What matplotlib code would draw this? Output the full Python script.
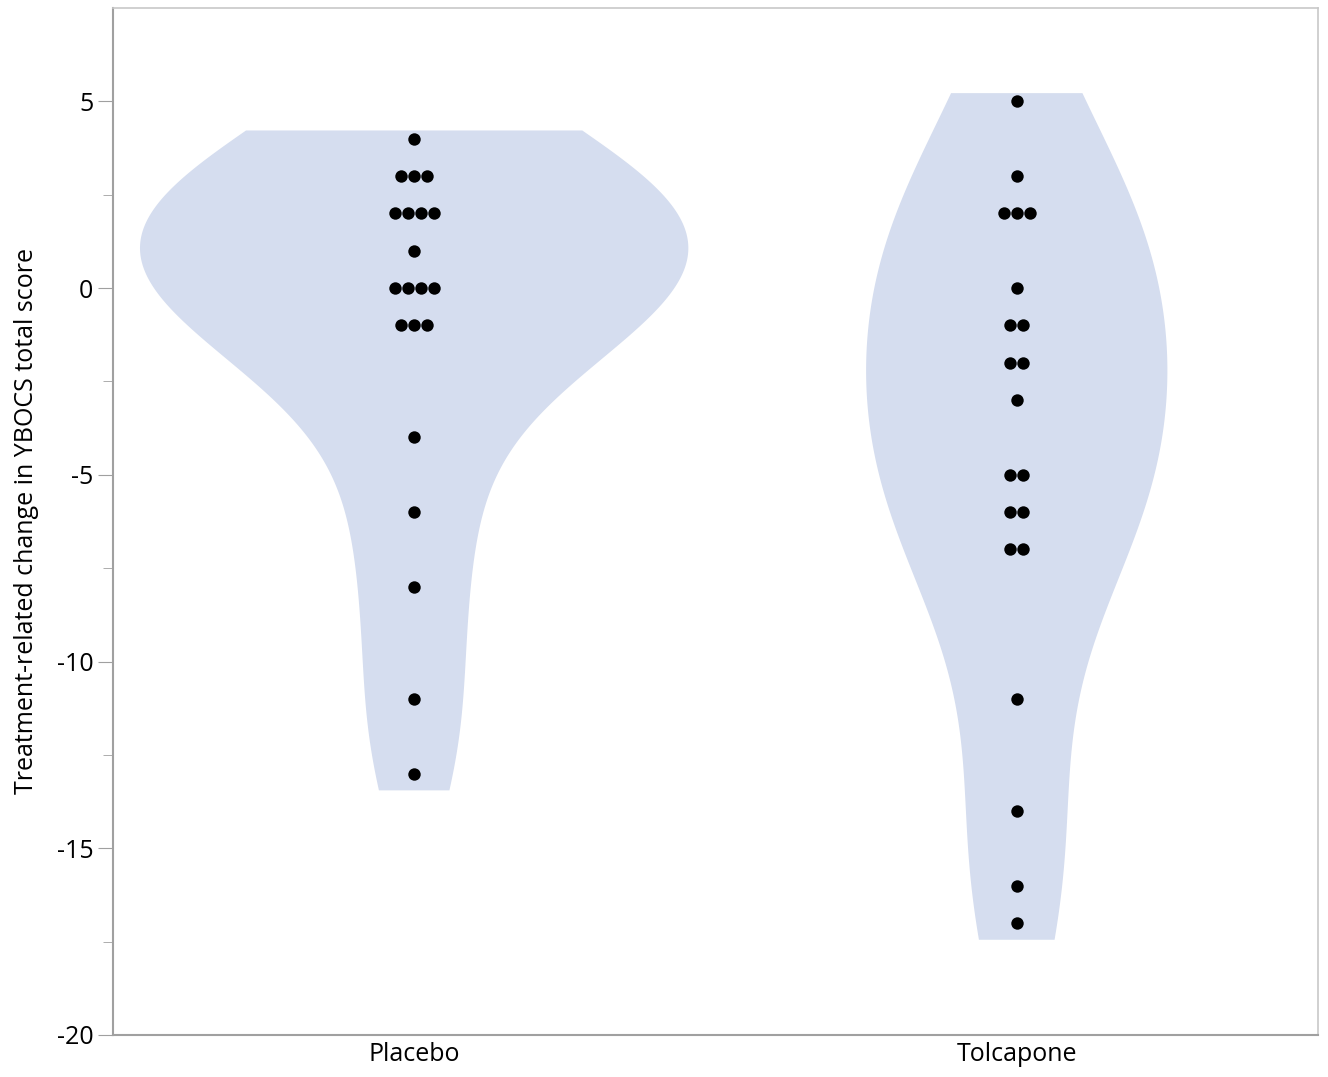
import numpy as np
import matplotlib
matplotlib.use("Agg")
import matplotlib.pyplot as plt

categories = ["Placebo", "Tolcapone"]
placebo = [4, 3, 3, 3, 2, 2, 2, 2, 1, 0, 0, 0, 0, -1, -1, -1, -4, -6, -8, -11, -13]
tolcapone = [5, 3, 2, 2, 2, 0, -1, -1, -2, -2, -3, -5, -5, -6, -6, -7, -7, -11, -14, -16, -17]
series = [placebo, tolcapone]
yticks = [5, 0, -5, -10, -15, -20]

plt.rcParams['font.family'] = ['Open Sans', 'DejaVu Sans']

fig = plt.figure(figsize=(13.28, 10.77), dpi=100)
ax = fig.add_axes([0.085, 0.039, 0.9075, 0.9536])

fill = '#d5ddef'
ext_hi, ext_lo = 0.22, 0.45
violin_widths = [0.91, 0.50]

stats = []
for d in series:
    d = np.asarray(d, float)
    bw = d.std(ddof=1) * len(d) ** (-0.2)
    coords = np.linspace(d.min() - ext_lo, d.max() + ext_hi, 400)
    dens = np.exp(-0.5 * ((coords[:, None] - d[None, :]) / bw) ** 2).sum(axis=1)
    dens = dens / (len(d) * bw * np.sqrt(2 * np.pi))
    stats.append(dict(coords=coords, vals=dens, mean=d.mean(), median=np.median(d),
                      min=d.min(), max=d.max()))
parts = ax.violin(stats, positions=[0, 1], widths=violin_widths, showmeans=False,
                  showextrema=False, showmedians=False)
for b in parts['bodies']:
    b.set_facecolor(fill)
    b.set_edgecolor('none')
    b.set_alpha(1)

spacing = 0.0215
for i, d in enumerate(series):
    vals, counts = np.unique(d, return_counts=True)
    for v, c in zip(vals, counts):
        offs = (np.arange(c) - (c - 1) / 2) * spacing
        ax.scatter(i + offs, [v] * c, s=80, color='black', zorder=3, linewidths=0)

ax.set_xlim(-0.5, 1.5)
ax.set_ylim(-20, 7.5)
ax.set_xticks([0, 1])
ax.set_xticklabels(categories, fontsize=18)
ax.set_yticks(yticks)
ax.set_yticklabels([str(t) for t in yticks], fontsize=18)
ax.set_yticks(np.arange(-17.5, 7.5, 5), minor=True)
ax.tick_params(axis='y', which='major', length=11, color='#a0a0a0', pad=3)
ax.tick_params(axis='y', which='minor', length=7, color='#a0a0a0')
ax.tick_params(axis='x', length=0, pad=5)
for s in ['left', 'bottom']:
    ax.spines[s].set_color('#a0a0a0')
    ax.spines[s].set_linewidth(1.5)
for s in ['top', 'right']:
    ax.spines[s].set_color('#c8c8c8')
    ax.spines[s].set_linewidth(1.2)
ax.set_ylabel('Treatment-related change in YBOCS total score', fontsize=18, labelpad=13)

fig.savefig('out.png', dpi=100)
